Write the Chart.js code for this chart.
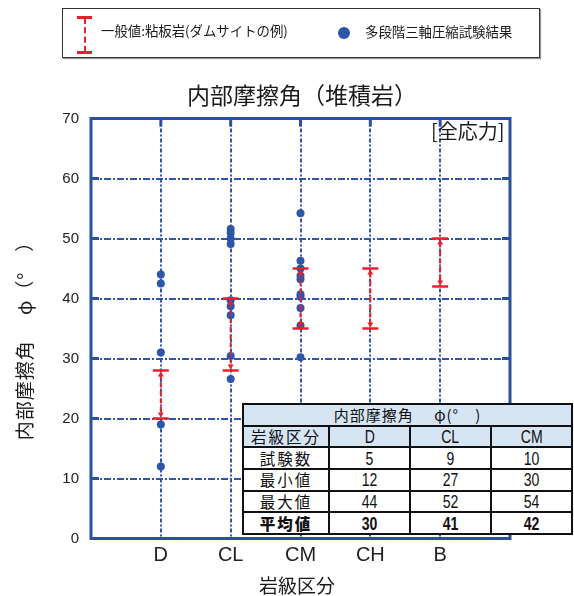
<!DOCTYPE html>
<html lang="ja">
<head>
<meta charset="utf-8">
<title>内部摩擦角（堆積岩）</title>
<script src="https://cdn.jsdelivr.net/npm/chart.js@4/dist/chart.umd.min.js"></script>
<style>
  html, body { margin: 0; padding: 0; background: #fff; }
  body { width: 574px; height: 596px; position: relative; overflow: hidden;
         font-family: "Noto Sans CJK JP", "Noto Sans", sans-serif; color: #1a1a1a; }
  #c { position: absolute; left: 0; top: 0; }
  .abs { position: absolute; white-space: nowrap; }
  #legend { left: 62px; top: 8px; width: 476px; height: 48px; border: 1.5px solid #333;
            box-shadow: 1px 1px 1px #999; background: #fff; }
  .cap { position: absolute; width: 15px; height: 2.5px; background: #e8202a; }
  .stem { position: absolute; width: 0; border-left: 2px dashed #e8202a; }
  .dot { position: absolute; width: 12px; height: 12px; border-radius: 50%; background: #2d56a8; }
  #title { left: 0; width: 604px; top: 81px; text-align: center; font-size: 23px; line-height: 26px; }
  #stress { left: 431px; top: 119px; font-size: 20px; line-height: 24px; }
  #ytitle { left: -126px; top: 324px; width: 300px; height: 24px; line-height: 24px; text-align: center;
            font-size: 19px; letter-spacing: 1px; transform: rotate(-90deg); }
  #xtitle { left: 200px; width: 194px; top: 574px; text-align: center; font-size: 19px; line-height: 22px; }
  #stats { position: absolute; left: 242px; top: 403px; width: 329px; border-collapse: collapse;
           background: #fff; border: 2.5px solid #111; table-layout: fixed; }
  #stats td { border: 2px solid #111; text-align: center; padding: 0; height: 19.7px; line-height: 19px;
              font-family: "Liberation Sans", Arial, sans-serif; font-size: 19px; color: #111; overflow: hidden; }
  #stats td .num { display: inline-block; transform: scaleX(0.74); }
  #stats td.lab { font-family: "Noto Sans CJK JP", sans-serif; font-size: 15.5px; letter-spacing: 2px; }
  #stats tr.head td { background: #d6e5f4; }
  #stats tr.mean td { font-weight: bold; }
</style>
</head>
<body>
<canvas id="c" width="574" height="596"></canvas>

<div id="legend" class="abs">
  <div class="cap" style="left:14px; top:7px;"></div>
  <div class="stem" style="left:20.5px; top:9px; height:34px;"></div>
  <div class="cap" style="left:14px; top:42px;"></div>
  <div class="abs" style="left:38px; top:12px; font-size:13.4px; line-height:18px;">一般値:粘板岩(ダムサイトの例)</div>
  <div class="dot" style="left:275px; top:18px;"></div>
  <div class="abs" style="left:302px; top:13px; font-size:13.4px; line-height:18px;">多段階三軸圧縮試験結果</div>
</div>

<div id="title" class="abs">内部摩擦角（堆積岩）</div>
<div id="stress" class="abs">[全応力]</div>
<div id="ytitle" class="abs">内部摩擦角　 φ（°　）</div>
<div id="xtitle" class="abs">岩級区分</div>

<table id="stats">
  <colgroup><col style="width:86px"><col style="width:81px"><col style="width:81px"><col style="width:81px"></colgroup>
  <tbody id="statsBody"></tbody>
</table>

<script>
// Rock classes along the horizontal axis
const categories = ['D', 'CL', 'CM', 'CH', 'B'];

// Multi-stage triaxial compression test results (degrees)
const testD  = [44, 42.5, 31, 19, 12];
const testCL = [51.6, 50.9, 50.0, 49.1, 39.7, 38.7, 37.2, 30.4, 26.6];
const testCM = [54.2, 46.3, 45.0, 43.8, 43.2, 40.7, 40.3, 38.4, 35.5, 30.2];

// Typical range for slate at the dam site (low / high, degrees)
const rangeLow  = [20, 28, 35, 35, 42];
const rangeHigh = [28, 40, 45, 45, 50];

// Summary table
const tableClasses = ['D', 'CL', 'CM'];
const tableCount   = [5, 9, 10];
const tableMin     = [12, 27, 30];
const tableMax     = [44, 52, 54];
const tableMean    = [30, 41, 42];

const AXIS_BLUE = '#2b50a0';
const GRID_BLUE = '#3056a8';
const DOT_BLUE  = '#2d56a8';
const RED       = '#e8202a';

// Build the summary table rows
(function buildTable() {
  const body = document.getElementById('statsBody');
  const row = (cls, label, vals) => {
    const tr = document.createElement('tr');
    if (cls) tr.className = cls;
    const th = document.createElement('td');
    th.className = 'lab';
    th.textContent = label;
    tr.appendChild(th);
    vals.forEach(v => {
      const td = document.createElement('td');
      const s = document.createElement('span');
      s.className = 'num';
      s.textContent = v;
      td.appendChild(s);
      tr.appendChild(td);
    });
    body.appendChild(tr);
    return tr;
  };
  const top = document.createElement('tr');
  top.className = 'head';
  const t = document.createElement('td');
  t.colSpan = 4; t.className = 'lab';
  t.style.letterSpacing = '1px';
  t.style.fontSize = '15px';
  t.textContent = '内部摩擦角　 φ(°　)';
  top.appendChild(t);
  body.appendChild(top);
  row('head', '岩級区分', tableClasses);
  row('', '試験数', tableCount);
  row('', '最小値', tableMin);
  row('', '最大値', tableMax);
  const last = row('mean', '平均値', tableMean);
  last.firstChild.style.fontWeight = '900';
})();

const points = [];
[testD, testCL, testCM].forEach((arr, i) => arr.forEach(v => points.push({ x: i + 1, y: v })));

// Red dashed range bars with caps and small arrowheads
const rangeBars = {
  id: 'rangeBars',
  afterDatasetsDraw(chart) {
    const { ctx, scales: { x, y } } = chart;
    categories.forEach((c, i) => {
      const px = x.getPixelForValue(i + 1);
      const top = y.getPixelForValue(rangeHigh[i]);
      const bot = y.getPixelForValue(rangeLow[i]);
      ctx.save();
      ctx.strokeStyle = RED;
      ctx.fillStyle = RED;
      ctx.lineWidth = 2;
      ctx.setLineDash([5, 3]);
      ctx.beginPath();
      ctx.moveTo(px, top + 4);
      ctx.lineTo(px, bot - 4);
      ctx.stroke();
      ctx.setLineDash([]);
      ctx.lineWidth = 2.5;
      ctx.beginPath();
      ctx.moveTo(px - 8, top); ctx.lineTo(px + 8, top);
      ctx.moveTo(px - 8, bot); ctx.lineTo(px + 8, bot);
      ctx.stroke();
      ctx.beginPath();
      ctx.moveTo(px, top + 1); ctx.lineTo(px - 3, top + 6); ctx.lineTo(px + 3, top + 6); ctx.closePath();
      ctx.moveTo(px, bot - 1); ctx.lineTo(px - 3, bot - 6); ctx.lineTo(px + 3, bot - 6); ctx.closePath();
      ctx.fill();
      ctx.restore();
    });
  }
};

// Plot frame with short inward tick marks
const frame = {
  id: 'frame',
  afterDraw(chart) {
    const { ctx, chartArea: a, scales: { x, y } } = chart;
    ctx.save();
    ctx.strokeStyle = AXIS_BLUE;
    ctx.lineWidth = 3;
    ctx.beginPath();
    y.ticks.forEach(t => {
      if (t.value <= y.min || t.value >= y.max) return;
      const py = y.getPixelForValue(t.value);
      ctx.moveTo(a.left, py); ctx.lineTo(a.left + 8, py);
      ctx.moveTo(a.right, py); ctx.lineTo(a.right - 8, py);
    });
    x.ticks.forEach(t => {
      const px = x.getPixelForValue(t.value);
      ctx.moveTo(px, a.top); ctx.lineTo(px, a.top + 8);
    });
    ctx.stroke();
    ctx.strokeRect(a.left, a.top, a.right - a.left, a.bottom - a.top);
    ctx.restore();
  }
};

new Chart(document.getElementById('c'), {
  type: 'scatter',
  data: {
    datasets: [{
      label: '多段階三軸圧縮試験結果',
      data: points,
      backgroundColor: DOT_BLUE,
      borderColor: DOT_BLUE,
      pointRadius: 4,
      pointHoverRadius: 4,
      borderWidth: 0
    }]
  },
  options: {
    responsive: false,
    animation: false,
    devicePixelRatio: 1,
    layout: { padding: { top: 118.5, right: 64, left: 0, bottom: 0 } },
    plugins: { legend: { display: false }, title: { display: false }, tooltip: { enabled: false } },
    scales: {
      x: {
        type: 'linear',
        min: 0,
        max: 6,
        afterBuildTicks: s => { s.ticks = categories.map((c, i) => ({ value: i + 1 })); },
        afterFit: s => { s.height = 57.5; },
        ticks: {
          callback: v => categories[v - 1] || '',
          font: { size: 20, family: 'Liberation Sans, Arial, sans-serif' },
          color: '#222',
          padding: 5,
          maxRotation: 0,
          autoSkip: false
        },
        grid: { color: GRID_BLUE, lineWidth: 2, drawTicks: false },
        border: { display: false, dash: [4, 2, 2, 2] }
      },
      y: {
        min: 0,
        max: 70,
        afterFit: s => { s.width = 91; },
        ticks: {
          stepSize: 10,
          font: { size: 15, family: 'Liberation Sans, Arial, sans-serif' },
          color: '#222',
          padding: 12
        },
        grid: { color: GRID_BLUE, lineWidth: 2, drawTicks: false },
        border: { display: false, dash: [7, 2, 2, 2] }
      }
    }
  },
  plugins: [rangeBars, frame]
});
</script>
</body>
</html>
